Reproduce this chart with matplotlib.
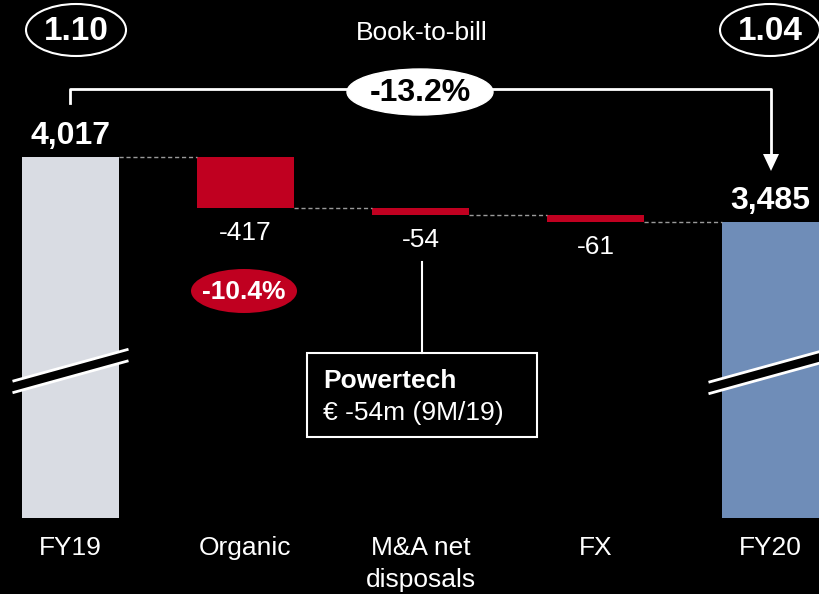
import numpy as np
import matplotlib.pyplot as plt
from matplotlib.patches import Ellipse, Rectangle, Polygon

plt.rcParams['font.family'] = ['Liberation Sans', 'DejaVu Sans']

# Order intake bridge FY19 -> FY20 (EUR m)
categories = ['FY19', 'Organic', 'M&A net\ndisposals', 'FX', 'FY20']
start_value = 4017
changes = [-417, -54, -61]
end_value = 3485
book_to_bill = ['1.10', '1.04']
total_change = '-13.2%'
organic_change = '-10.4%'

grey = '#D9DCE3'
blue = '#6F8DB8'
red = '#C00020'

W, H = 819, 594
fig = plt.figure(figsize=(W / 100, H / 100), dpi=100, facecolor='black')

# value axis: bars are truncated (broken axis), so the floor sits well above 0
k = 417 / 51.0                      # value units per pixel
y_top = start_value + 157 * k
y_bot = start_value - (H - 157) * k
floor = start_value - (518 - 157) * k

ax = fig.add_axes([0, 0, 1, 1])
ax.set_facecolor('black')
ax.set_xlim(-70.5 / 175, (W - 70.5) / 175)
ax.set_ylim(y_bot, y_top)
ax.axis('off')

x = np.arange(len(categories))
bw = 97 / 175

# running levels for the waterfall
levels = [start_value]
for c in changes:
    levels.append(levels[-1] + c)

ax.bar(x[0], start_value - floor, bottom=floor, width=bw, color=grey)
ax.bar(x[-1], end_value - floor, bottom=floor, width=bw, color=blue)
for i, c in enumerate(changes):
    ax.bar(x[i + 1], -c, bottom=levels[i + 1], width=bw, color=red)

# dashed connectors between bars
for i in range(len(categories) - 1):
    lvl = levels[i]
    ax.plot([x[i] + bw / 2, x[i + 1] - bw / 2], [lvl, lvl],
            ls=(0, (3, 2)), color='#9A9A9A', lw=1)

# totals above, deltas below
ax.annotate(f'{start_value:,}', (x[0], start_value), xytext=(0, 15),
            textcoords='offset points', ha='center', va='center',
            color='white', fontsize=23, fontweight='bold')
ax.annotate(f'{end_value:,}', (x[-1], end_value), xytext=(0, 15),
            textcoords='offset points', ha='center', va='center',
            color='white', fontsize=23, fontweight='bold')
for i, c in enumerate(changes):
    ax.annotate(f'{c}', (x[i + 1], levels[i + 1]), xytext=(0, -18),
                textcoords='offset points', ha='center', va='center',
                color='white', fontsize=19)

# broken-axis marks on the total bars
def axis_break(xc, yc):
    dx = 58 / 175
    dy = 16 * k
    gap = 11.5 * k
    pts = [(xc - dx, yc - dy + gap / 2), (xc + dx, yc + dy + gap / 2),
           (xc + dx, yc + dy - gap / 2), (xc - dx, yc - dy - gap / 2)]
    ax.add_patch(Polygon(pts, closed=True, facecolor='black', edgecolor='none',
                         zorder=3, clip_on=False))
    for sgn in (1, -1):
        ax.plot([xc - dx, xc + dx],
                [yc - dy + sgn * gap / 2, yc + dy + sgn * gap / 2],
                color='white', lw=2, zorder=4, solid_capstyle='butt')

axis_break(x[0], start_value - (371 - 157) * k)
axis_break(x[-1] - 4 / 175, start_value - (372 - 157) * k)

# category labels, one line at a time
for xi, lab in zip(x, categories):
    for j, line in enumerate(lab.split('\n')):
        ax.text(xi, start_value - (555 + 32 * j - 157) * k, line,
                ha='center', va='baseline', color='white', fontsize=19)

# overlay in pixel units for callouts
ov = fig.add_axes([0, 0, 1, 1])
ov.set_xlim(0, W)
ov.set_ylim(H, 0)
ov.axis('off')
ov.patch.set_alpha(0)

# book-to-bill ellipses
for cx, txt in zip([76, 770], book_to_bill):
    ov.add_patch(Ellipse((cx, 30), 100, 52, facecolor='black',
                         edgecolor='white', lw=1.5))
    ov.text(cx, 31, txt, ha='center', va='center', color='white',
            fontsize=24, fontweight='bold')
ov.text(422, 33, 'Book-to-bill', ha='center', va='center', color='white',
        fontsize=19)

# overall change bracket
ov.plot([70, 70, 771, 771], [103, 89, 89, 156], color='white', lw=2)
ov.add_patch(Polygon([(763, 154), (779, 154), (771, 171)], closed=True,
                     facecolor='white', edgecolor='none'))
ov.add_patch(Ellipse((420, 92), 146, 46, facecolor='white', edgecolor='white'))
ov.text(420, 93, total_change, ha='center', va='center', color='black',
        fontsize=23, fontweight='bold')

# organic change bubble
ov.add_patch(Ellipse((244, 291), 106, 44, facecolor=red, edgecolor='none'))
ov.text(244, 292, organic_change, ha='center', va='center', color='white',
        fontsize=19, fontweight='bold')

# Powertech callout
ov.plot([422, 422], [262, 353], color='white', lw=1.5)
ov.add_patch(Rectangle((307, 353), 230, 84, facecolor='black',
                       edgecolor='white', lw=1.5))
ov.text(323, 381, 'Powertech', ha='left', va='center', color='white',
        fontsize=19, fontweight='bold')
ov.text(323, 413, '€ -54m (9M/19)', ha='left', va='center', color='white',
        fontsize=19)

fig.savefig('out.png', dpi=100, facecolor='black')
